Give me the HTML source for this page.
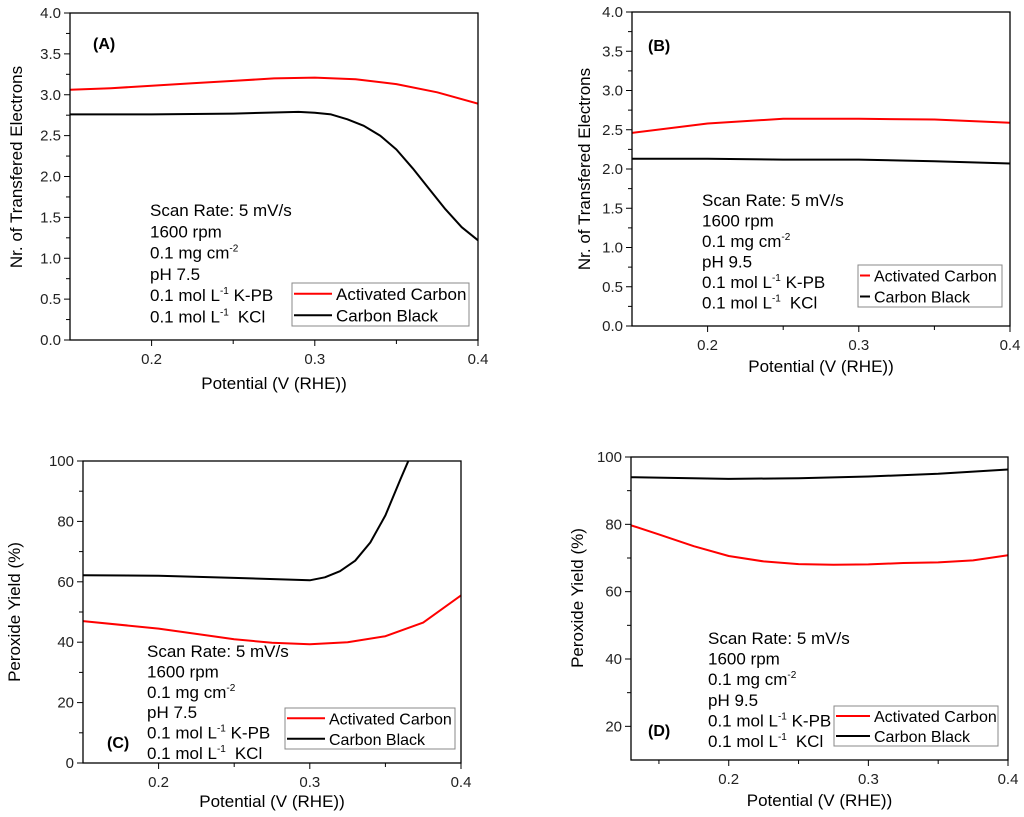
<!DOCTYPE html>
<html><head><meta charset="utf-8">
<style>
body{margin:0;background:#fff;}
svg{display:block;font-family:"Liberation Sans",Arial,sans-serif;}
</style></head>
<body>
<svg id="fig" width="1024" height="817" viewBox="0 0 1024 817" xmlns="http://www.w3.org/2000/svg"></svg>
<script>
// Panel A data
const xA = [0.15,0.175,0.2,0.225,0.25,0.275,0.3,0.325,0.35,0.375,0.4];
const acA = [3.06,3.08,3.11,3.14,3.17,3.2,3.21,3.19,3.13,3.03,2.89];
const xAb = [0.15,0.2,0.25,0.29,0.3,0.31,0.32,0.33,0.34,0.35,0.36,0.37,0.38,0.39,0.4];
const cbA = [2.76,2.76,2.77,2.79,2.78,2.76,2.7,2.62,2.5,2.33,2.1,1.85,1.6,1.38,1.22];
// Panel B data
const xB = [0.15,0.2,0.25,0.3,0.35,0.4];
const acB = [2.46,2.58,2.64,2.64,2.63,2.59];
const cbB = [2.13,2.13,2.12,2.12,2.1,2.07];
// Panel C data
const xC = [0.15,0.2,0.25,0.275,0.3,0.325,0.35,0.375,0.4];
const acC = [47,44.5,41,39.8,39.3,40,42,46.5,55.5];
const xCb = [0.15,0.2,0.25,0.3,0.31,0.32,0.33,0.34,0.35,0.36,0.366];
const cbC = [62.2,62,61.3,60.5,61.5,63.5,67,73,82,94,101];
// Panel D data
const xD = [0.13,0.15,0.175,0.2,0.225,0.25,0.275,0.3,0.325,0.35,0.375,0.4];
const acD = [79.7,77,73.5,70.6,69,68.2,68,68.1,68.5,68.7,69.3,70.8];
const xDb = [0.13,0.2,0.25,0.3,0.35,0.4];
const cbD = [94,93.5,93.7,94.2,95,96.3];
const xTicks = [0.2,0.3,0.4];
const yTicksN = [0.0,0.5,1.0,1.5,2.0,2.5,3.0,3.5,4.0];
const yTicksC = [0,20,40,60,80,100];
const yTicksD = [20,40,60,80,100];

const NS="http://www.w3.org/2000/svg";
const svg=document.getElementById('fig');
function mk(tag,attrs,parent,text){const e=document.createElementNS(NS,tag);for(const k in attrs)e.setAttribute(k,attrs[k]);if(text!==undefined)e.textContent=text;(parent||svg).appendChild(e);return e;}

function panel(p){
  const g=mk('g',{});
  
  
  const sx=v=>p.x0+(v-p.xmin)/(p.xmax-p.xmin)*(p.x1-p.x0);
  const sy=v=>p.y1-(v-p.ymin)/(p.ymax-p.ymin)*(p.y1-p.y0);
  const clipId='clip'+p.id;
  const cp=mk('clipPath',{id:clipId},g);mk('rect',{x:p.x0,y:p.y0,width:p.x1-p.x0,height:p.y1-p.y0},cp);
  p.series.forEach(s=>{
    const d=s.xs.map((x,i)=>(i?'L':'M')+sx(x).toFixed(1)+','+sy(s.ys[i]).toFixed(1)).join(' ');
    const path=mk('path',{d:d,fill:'none',stroke:s.c,'stroke-width':2,'stroke-linejoin':'round','clip-path':'url(#'+clipId+')'},g);
    
    
  });
  const fr=mk('rect',{x:p.x0,y:p.y0,width:p.x1-p.x0,height:p.y1-p.y0,fill:'none',stroke:'#000','stroke-width':1.3},g);
  
  
  xTicks.forEach(t=>{
    mk('line',{x1:sx(t),x2:sx(t),y1:p.y1,y2:p.y1+6,stroke:'#000'},g);
    const tl=mk('text',{x:sx(t),y:p.y1+24,'font-size':15,'text-anchor':'middle',fill:'#222'},g,t.toFixed(1));
    
    
  });
  for(let t=0.15;t<0.4;t+=0.1){if(t>p.xmin+0.001)mk('line',{x1:sx(t),x2:sx(t),y1:p.y1,y2:p.y1+4,stroke:'#000'},g);}
  p.yTicks.forEach(t=>{
    mk('line',{x1:p.x0-6,x2:p.x0,y1:sy(t),y2:sy(t),stroke:'#000'},g);
    const tl=mk('text',{x:p.x0-9,y:sy(t)+5,'font-size':15,'text-anchor':'end',fill:'#222'},g,p.fmt(t));
    
    
  });
  for(let t=p.minorStart;t<p.ymax;t+=p.minorStep){mk('line',{x1:p.x0-4,x2:p.x0,y1:sy(t),y2:sy(t),stroke:'#000'},g);}
  const xt=mk('text',{x:(p.x0+p.x1)/2,y:p.xty,'font-size':17,'text-anchor':'middle'},g,'Potential (V (RHE))');
  
  
  const yt=mk('text',{x:0,y:0,'font-size':17,'text-anchor':'middle',transform:'translate('+p.ytx+','+p.yty+') rotate(-90)'},g,p.ytitle);
  
  
  const pl=mk('text',{x:p.lx,y:p.ly,'font-size':16,'font-weight':'bold'},g,'('+p.id+')');
  
  
  const lines=['Scan Rate: 5 mV/s','1600 rpm','0.1 mg cm','pH '+p.ph,'0.1 mol L','0.1 mol L'];
  const ann=mk('g',{},g);
  
  
  lines.forEach((l,i)=>{
    const t=mk('text',{x:p.ax,y:p.ay+i*p.adv,'font-size':17,'xml:space':'preserve'},ann,l);
    if(i===2){mk('tspan',{dy:-7,'font-size':10},t,'-2');}
    if(i===4){mk('tspan',{dy:-7,'font-size':10},t,'-1');mk('tspan',{dy:7},t,' K-PB');}
    if(i===5){mk('tspan',{dy:-7,'font-size':10},t,'-1');mk('tspan',{dy:7,dx:9},t,'KCl');}
  });
  const lg=mk('g',{},g);
  
  
  mk('rect',{x:p.L[0],y:p.L[1],width:p.L[2],height:p.L[3],fill:'#fff',stroke:'#888'},lg);
  const h=p.L[3]/2;
  [['Activated Carbon','#f00'],['Carbon Black','#000']].forEach((e,i)=>{
    const cy=p.L[1]+h*(i+0.5);
    const ent=mk('g',{},lg);
    
    
    mk('line',{x1:p.L[0]+2,x2:p.L[0]+p.lw,y1:cy,y2:cy,stroke:e[1],'stroke-width':2},ent);
    mk('text',{x:p.L[0]+p.lw+4,y:cy+6,'font-size':p.lf},ent,e[0]);
  });
}

const f1=v=>v.toFixed(1), f0=v=>String(v);
panel({id:'A',x0:70,x1:478,y0:13,y1:340,xmin:0.15,xmax:0.4,ymin:0,ymax:4,yTicks:yTicksN,fmt:f1,minorStart:0.25,minorStep:0.5,
  series:[{xs:xA,ys:acA,c:'#f00',name:'activated-carbon-line'},{xs:xAb,ys:cbA,c:'#000',name:'carbon-black-line'}],
  xty:389,ytx:22,yty:167,ytitle:'Nr. of Transfered Electrons',lx:93,ly:49,ph:'7.5',ax:150,ay:216,adv:21.3,L:[292,283,177,43],lw:40,lf:17});
panel({id:'B',x0:632,x1:1010,y0:12,y1:326,xmin:0.15,xmax:0.4,ymin:0,ymax:4,yTicks:yTicksN,fmt:f1,minorStart:0.25,minorStep:0.5,
  series:[{xs:xB,ys:acB,c:'#f00',name:'activated-carbon-line'},{xs:xB,ys:cbB,c:'#000',name:'carbon-black-line'}],
  xty:372,ytx:590,yty:169,ytitle:'Nr. of Transfered Electrons',lx:648,ly:51,ph:'9.5',ax:702,ay:206,adv:20.5,L:[858,265,144,42],lw:12,lf:16});
panel({id:'C',x0:83,x1:461,y0:461,y1:763,xmin:0.15,xmax:0.4,ymin:0,ymax:100,yTicks:yTicksC,fmt:f0,minorStart:10,minorStep:20,
  series:[{xs:xC,ys:acC,c:'#f00',name:'activated-carbon-line'},{xs:xCb,ys:cbC,c:'#000',name:'carbon-black-line'}],
  xty:807,ytx:20,yty:612,ytitle:'Peroxide Yield (%)',lx:107,ly:748,ph:'7.5',ax:147,ay:657,adv:20.4,L:[285,708,170,41],lw:40,lf:16});
panel({id:'D',x0:631,x1:1008,y0:457,y1:760,xmin:0.13,xmax:0.4,ymin:10,ymax:100,yTicks:yTicksD,fmt:f0,minorStart:30,minorStep:20,
  series:[{xs:xD,ys:acD,c:'#f00',name:'activated-carbon-line'},{xs:xDb,ys:cbD,c:'#000',name:'carbon-black-line'}],
  xty:806,ytx:583,yty:598,ytitle:'Peroxide Yield (%)',lx:648,ly:736,ph:'9.5',ax:708,ay:644,adv:20.6,L:[834,706,164,40],lw:36,lf:16});
</script>
</body></html>
